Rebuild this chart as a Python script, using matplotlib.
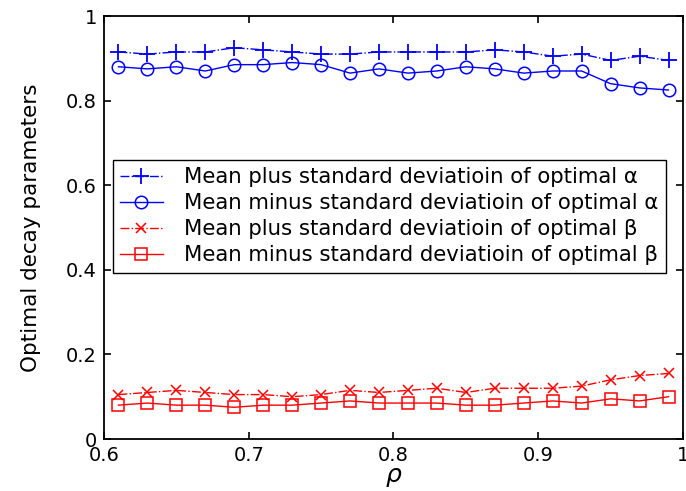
import numpy as np
import matplotlib
matplotlib.use("Agg")
import matplotlib.pyplot as plt

rho = [0.61, 0.63, 0.65, 0.67, 0.69, 0.71, 0.73, 0.75, 0.77, 0.79,
       0.81, 0.83, 0.85, 0.87, 0.89, 0.91, 0.93, 0.95, 0.97, 0.99]
alpha_plus = [0.915, 0.91, 0.915, 0.915, 0.925, 0.92, 0.915, 0.91, 0.91, 0.915,
              0.915, 0.915, 0.915, 0.92, 0.915, 0.905, 0.91, 0.895, 0.905, 0.895]
alpha_minus = [0.88, 0.875, 0.88, 0.87, 0.885, 0.885, 0.89, 0.885, 0.865, 0.875,
               0.865, 0.87, 0.88, 0.875, 0.865, 0.87, 0.87, 0.84, 0.83, 0.825]
beta_plus = [0.105, 0.11, 0.115, 0.11, 0.105, 0.105, 0.10, 0.105, 0.115, 0.11,
             0.115, 0.12, 0.11, 0.12, 0.12, 0.12, 0.125, 0.14, 0.15, 0.155]
beta_minus = [0.08, 0.085, 0.08, 0.08, 0.075, 0.08, 0.08, 0.085, 0.09, 0.085,
              0.085, 0.085, 0.08, 0.08, 0.085, 0.09, 0.085, 0.095, 0.09, 0.10]

labels = ["Mean plus standard deviatioin of optimal \u03b1",
          "Mean minus standard deviatioin of optimal \u03b1",
          "Mean plus standard deviatioin of optimal \u03b2",
          "Mean minus standard deviatioin of optimal \u03b2"]
xticks = [0.6, 0.7, 0.8, 0.9, 1.0]
xticklabels = ["0.6", "0.7", "0.8", "0.9", "1"]
yticks = [0, 0.2, 0.4, 0.6, 0.8, 1.0]
yticklabels = ["0", "0.2", "0.4", "0.6", "0.8", "1"]

plt.rcParams['font.family'] = ['DejaVu Sans']
fig = plt.figure(figsize=(6.86, 4.91), dpi=100)
ax = fig.add_axes([0.1516, 0.1059, 0.8440, 0.8615])

ax.plot(rho, alpha_plus, color='#0000ff', linestyle='-.', marker='+', markersize=12,
        markeredgewidth=1.3, linewidth=1.0, label=labels[0])
ax.plot(rho, alpha_minus, color='#0000ff', linestyle='-', marker='o', markersize=9,
        markerfacecolor='none', markeredgewidth=1.1, linewidth=1.0, label=labels[1])
ax.plot(rho, beta_plus, color='#ff0000', linestyle='-.', marker='x', markersize=7,
        markeredgewidth=1.1, linewidth=1.0, label=labels[2])
ax.plot(rho, beta_minus, color='#ff0000', linestyle='-', marker='s', markersize=9,
        markerfacecolor='none', markeredgewidth=1.1, linewidth=1.0, label=labels[3])

ax.set_xlim(0.6, 1.0)
ax.set_ylim(0, 1.0)
ax.set_xticks(xticks)
ax.set_xticklabels(xticklabels)
ax.set_yticks(yticks)
ax.set_yticklabels(yticklabels)
ax.tick_params(direction='in', top=True, right=True, length=5, width=1.2,
               labelsize=14, colors='black', pad=5)
for s in ax.spines.values():
    s.set_linewidth(1.3)

ax.set_xlabel(r"$\rho$", fontsize=18, labelpad=0)
ax.set_ylabel("Optimal decay parameters", fontsize=15.5, labelpad=18)

leg = ax.legend(loc='upper left', bbox_to_anchor=(0.015, 0.66), fontsize=15.3,
                frameon=True, fancybox=False, edgecolor='black', framealpha=1,
                handlelength=2.0, handletextpad=1.0, labelspacing=0.28,
                borderpad=0.35, borderaxespad=0)
leg.get_frame().set_linewidth(1.0)

fig.savefig("out.png", dpi=100)
